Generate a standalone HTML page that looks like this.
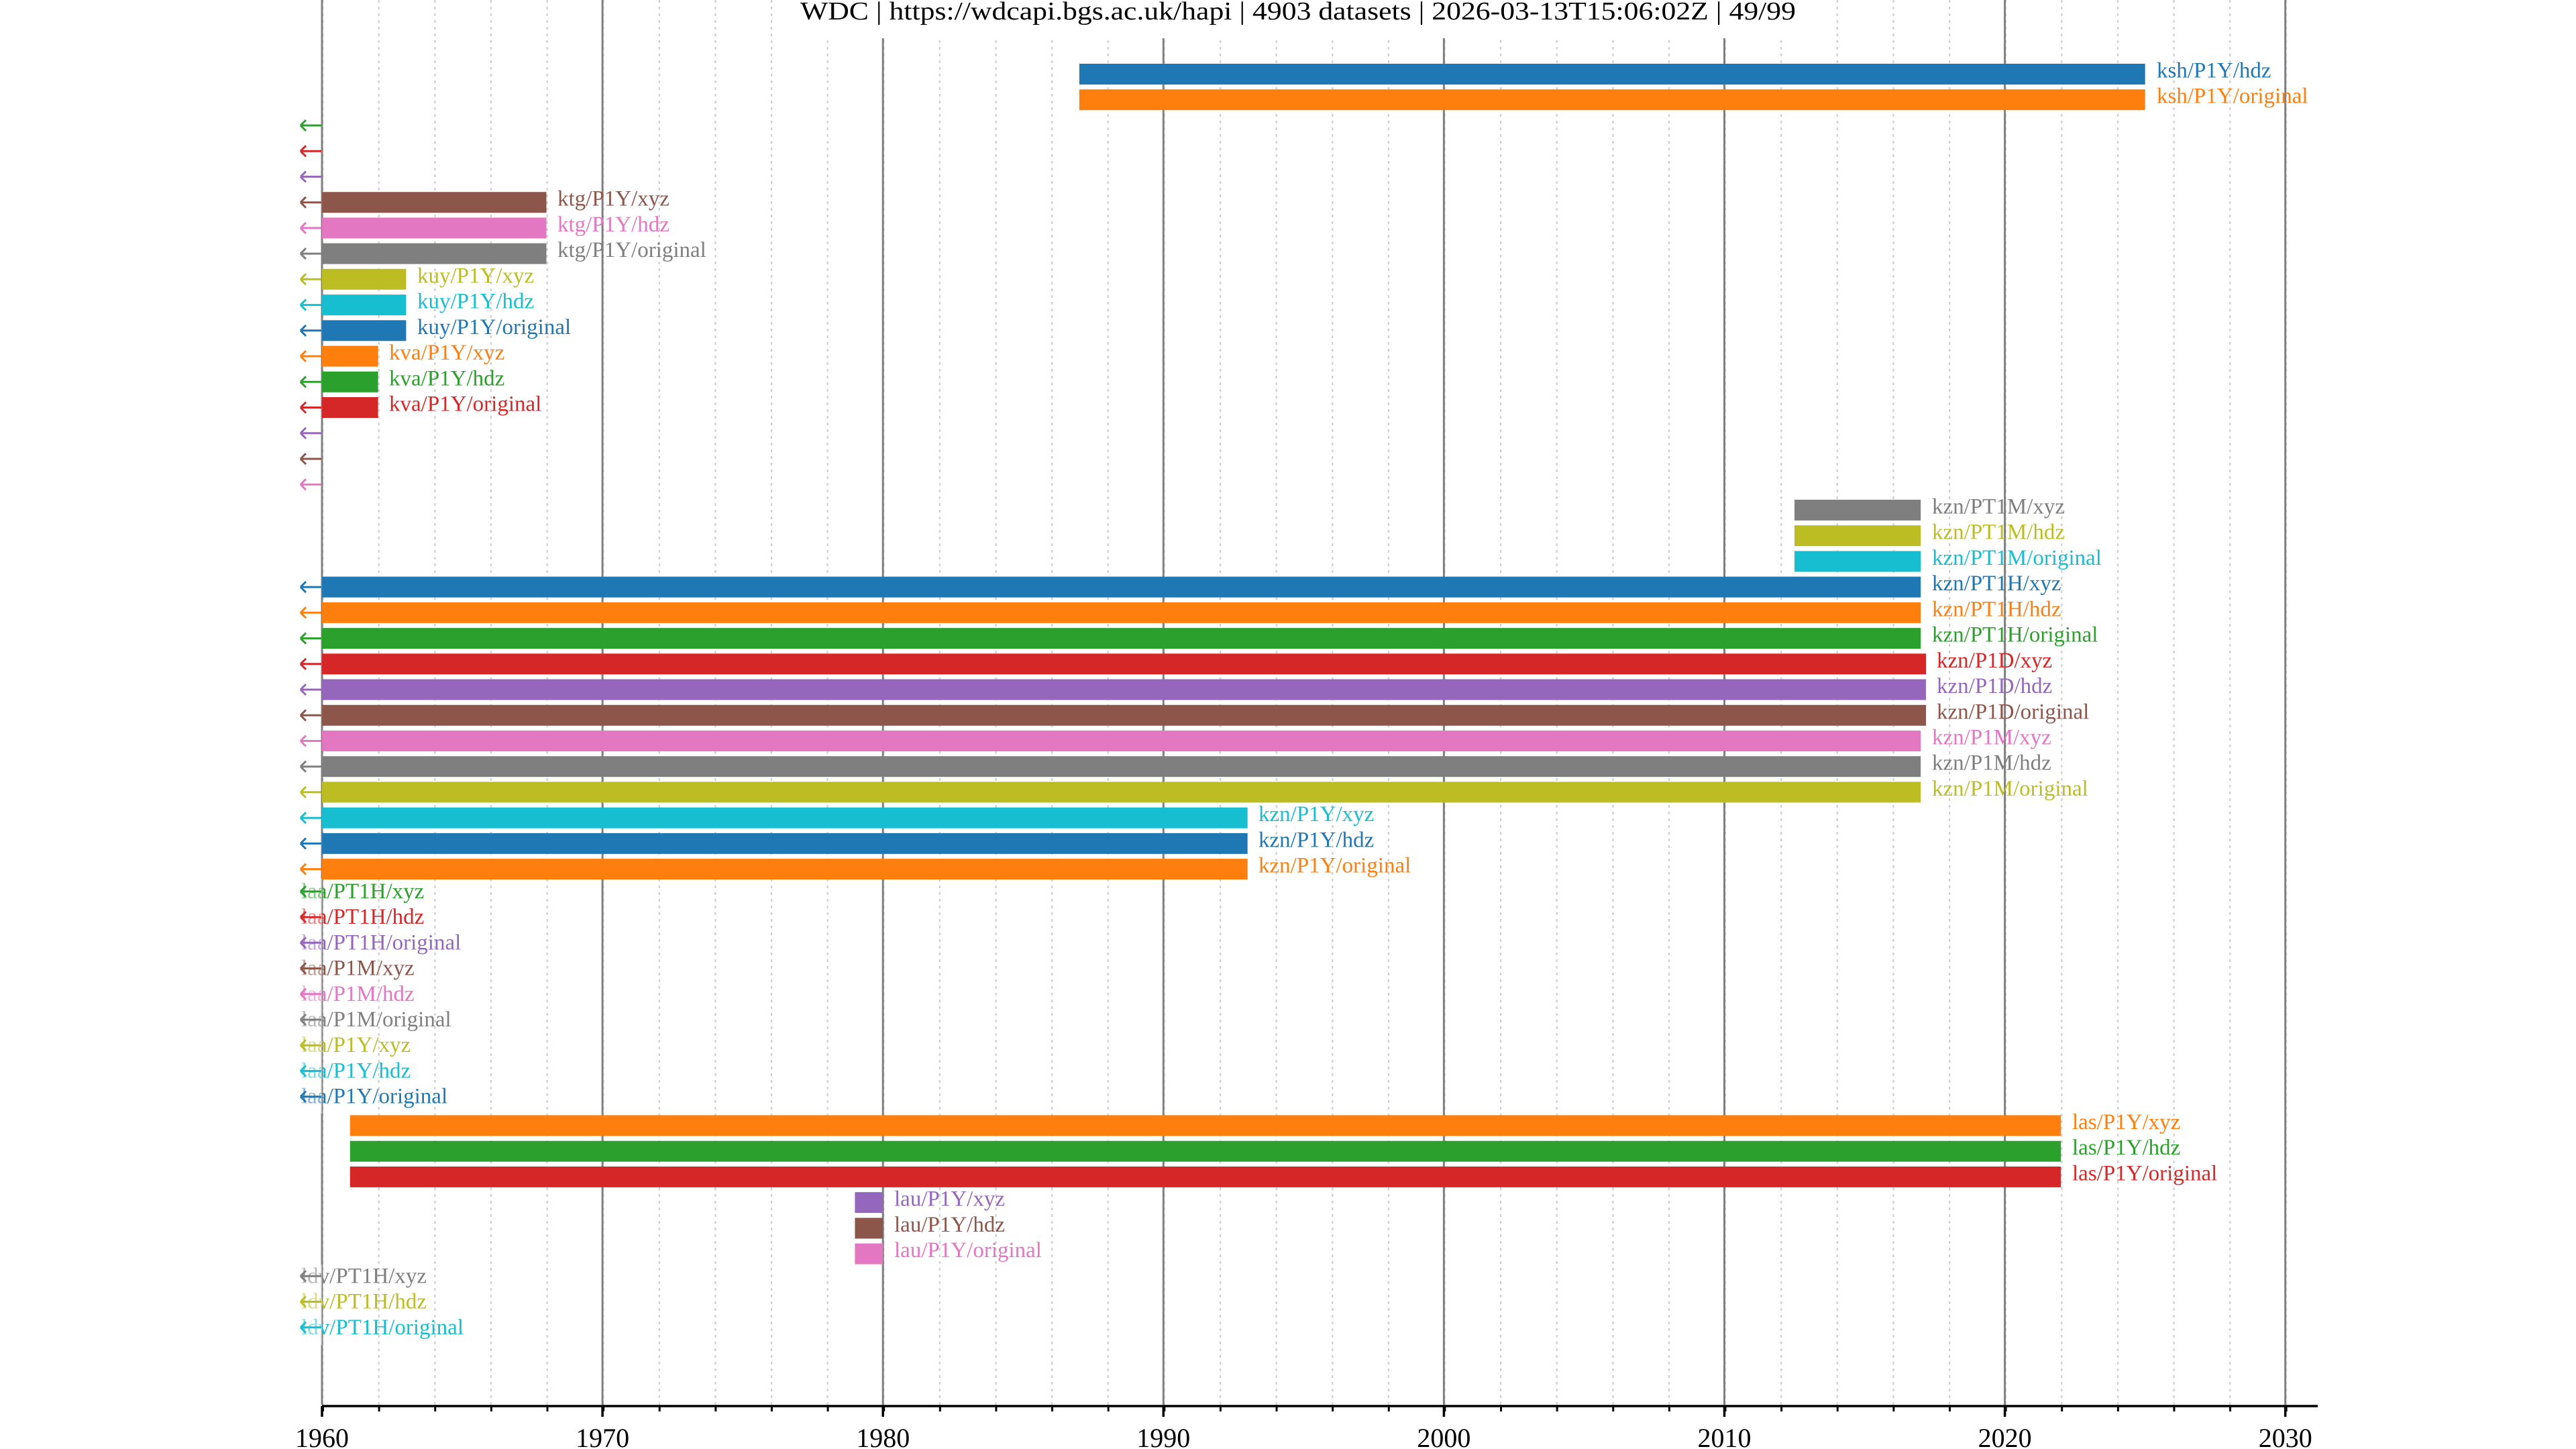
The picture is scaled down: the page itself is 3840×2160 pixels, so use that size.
<!DOCTYPE html>
<html><head><meta charset="utf-8"><style>
html,body{margin:0;padding:0;background:#fff;}
svg{display:block;}
text{font-family:"Liberation Serif","DejaVu Serif",serif;}
.l{font-size:33px;dominant-baseline:central;}
</style></head><body>
<svg width="3840" height="2160" viewBox="0 0 3840 2160" xmlns="http://www.w3.org/2000/svg">
<defs>
<pattern id="mg" patternUnits="userSpaceOnUse" x="480" y="0" width="83.62" height="10">
<line x1="1" y1="0" x2="1" y2="4" stroke="#cfcfcf" stroke-width="2.5"/>
</pattern>
<pattern id="mt" patternUnits="userSpaceOnUse" x="480" y="0" width="83.62" height="20">
<rect x="0" y="0" width="3" height="20" fill="#000"/>
</pattern>
</defs>
<rect width="3840" height="2160" fill="#fff"/>
<rect x="480" y="0" width="2960" height="2094" fill="url(#mg)"/>
<g stroke="#808080" stroke-width="3">
<line x1="480" y1="0" x2="480" y2="2094"/>
<line x1="898.1" y1="0" x2="898.1" y2="2094"/>
<line x1="1316.2" y1="0" x2="1316.2" y2="2094"/>
<line x1="1734.3" y1="0" x2="1734.3" y2="2094"/>
<line x1="2152.4" y1="0" x2="2152.4" y2="2094"/>
<line x1="2570.5" y1="0" x2="2570.5" y2="2094"/>
<line x1="2988.6" y1="0" x2="2988.6" y2="2094"/>
<line x1="3406.7" y1="0" x2="3406.7" y2="2094"/>
</g>
<rect x="1190" y="0" width="1490" height="57" fill="#fff"/>
<text x="1935" y="29" font-size="38" text-anchor="middle" textLength="1484" lengthAdjust="spacingAndGlyphs">WDC | https://wdcapi.bgs.ac.uk/hapi | 4903 datasets | 2026-03-13T15:06:02Z | 49/99</text>

<g>
<rect x="1608.9" y="95" width="1588.8" height="31" fill="#1f77b4"/>
<rect x="1608.9" y="133.2" width="1588.8" height="31" fill="#ff7f0e"/>
<rect x="480" y="286.2" width="334.5" height="31" fill="#8c564b"/>
<rect x="480" y="324.4" width="334.5" height="31" fill="#e377c2"/>
<rect x="480" y="362.6" width="334.5" height="31" fill="#7f7f7f"/>
<rect x="480" y="400.8" width="125.4" height="31" fill="#bcbd22"/>
<rect x="480" y="439.1" width="125.4" height="31" fill="#17becf"/>
<rect x="480" y="477.3" width="125.4" height="31" fill="#1f77b4"/>
<rect x="480" y="515.5" width="83.6" height="31" fill="#ff7f0e"/>
<rect x="480" y="553.8" width="83.6" height="31" fill="#2ca02c"/>
<rect x="480" y="592" width="83.6" height="31" fill="#d62728"/>
<rect x="2675" y="744.9" width="188.2" height="31" fill="#7f7f7f"/>
<rect x="2675" y="783.1" width="188.2" height="31" fill="#bcbd22"/>
<rect x="2675" y="821.4" width="188.2" height="31" fill="#17becf"/>
<rect x="480" y="859.6" width="2383.2" height="31" fill="#1f77b4"/>
<rect x="480" y="897.8" width="2383.2" height="31" fill="#ff7f0e"/>
<rect x="480" y="936.1" width="2383.2" height="31" fill="#2ca02c"/>
<rect x="480" y="974.3" width="2391" height="31" fill="#d62728"/>
<rect x="480" y="1012.5" width="2391" height="31" fill="#9467bd"/>
<rect x="480" y="1050.8" width="2391" height="31" fill="#8c564b"/>
<rect x="480" y="1089" width="2383.2" height="31" fill="#e377c2"/>
<rect x="480" y="1127.2" width="2383.2" height="31" fill="#7f7f7f"/>
<rect x="480" y="1165.4" width="2383.2" height="31" fill="#bcbd22"/>
<rect x="480" y="1203.7" width="1379.7" height="31" fill="#17becf"/>
<rect x="480" y="1241.9" width="1379.7" height="31" fill="#1f77b4"/>
<rect x="480" y="1280.1" width="1379.7" height="31" fill="#ff7f0e"/>
<rect x="521.8" y="1662.4" width="2550.4" height="31" fill="#ff7f0e"/>
<rect x="521.8" y="1700.7" width="2550.4" height="31" fill="#2ca02c"/>
<rect x="521.8" y="1738.9" width="2550.4" height="31" fill="#d62728"/>
<rect x="1274.4" y="1777.1" width="41.8" height="31" fill="#9467bd"/>
<rect x="1274.4" y="1815.4" width="41.8" height="31" fill="#8c564b"/>
<rect x="1274.4" y="1853.6" width="41.8" height="31" fill="#e377c2"/>
</g>

<g transform="translate(0,-5)">
<text class="l" x="3215" y="110.5" fill="#1f77b4">ksh/P1Y/hdz</text>
<text class="l" x="3215" y="148.7" fill="#ff7f0e">ksh/P1Y/original</text>
<text class="l" x="831" y="301.7" fill="#8c564b">ktg/P1Y/xyz</text>
<text class="l" x="831" y="339.9" fill="#e377c2">ktg/P1Y/hdz</text>
<text class="l" x="831" y="378.1" fill="#7f7f7f">ktg/P1Y/original</text>
<text class="l" x="622" y="416.3" fill="#bcbd22">kuy/P1Y/xyz</text>
<text class="l" x="622" y="454.6" fill="#17becf">kuy/P1Y/hdz</text>
<text class="l" x="622" y="492.8" fill="#1f77b4">kuy/P1Y/original</text>
<text class="l" x="580" y="531" fill="#ff7f0e">kva/P1Y/xyz</text>
<text class="l" x="580" y="569.3" fill="#2ca02c">kva/P1Y/hdz</text>
<text class="l" x="580" y="607.5" fill="#d62728">kva/P1Y/original</text>
<text class="l" x="2880" y="760.4" fill="#7f7f7f">kzn/PT1M/xyz</text>
<text class="l" x="2880" y="798.6" fill="#bcbd22">kzn/PT1M/hdz</text>
<text class="l" x="2880" y="836.9" fill="#17becf">kzn/PT1M/original</text>
<text class="l" x="2880" y="875.1" fill="#1f77b4">kzn/PT1H/xyz</text>
<text class="l" x="2880" y="913.3" fill="#ff7f0e">kzn/PT1H/hdz</text>
<text class="l" x="2880" y="951.6" fill="#2ca02c">kzn/PT1H/original</text>
<text class="l" x="2887" y="989.8" fill="#d62728">kzn/P1D/xyz</text>
<text class="l" x="2887" y="1028" fill="#9467bd">kzn/P1D/hdz</text>
<text class="l" x="2887" y="1066.3" fill="#8c564b">kzn/P1D/original</text>
<text class="l" x="2880" y="1104.5" fill="#e377c2">kzn/P1M/xyz</text>
<text class="l" x="2880" y="1142.7" fill="#7f7f7f">kzn/P1M/hdz</text>
<text class="l" x="2880" y="1180.9" fill="#bcbd22">kzn/P1M/original</text>
<text class="l" x="1876" y="1219.2" fill="#17becf">kzn/P1Y/xyz</text>
<text class="l" x="1876" y="1257.4" fill="#1f77b4">kzn/P1Y/hdz</text>
<text class="l" x="1876" y="1295.6" fill="#ff7f0e">kzn/P1Y/original</text>
<text class="l" x="449" y="1333.9" fill="#2ca02c">laa/PT1H/xyz</text>
<text class="l" x="449" y="1372.1" fill="#d62728">laa/PT1H/hdz</text>
<text class="l" x="449" y="1410.3" fill="#9467bd">laa/PT1H/original</text>
<text class="l" x="449" y="1448.6" fill="#8c564b">laa/P1M/xyz</text>
<text class="l" x="449" y="1486.8" fill="#e377c2">laa/P1M/hdz</text>
<text class="l" x="449" y="1525" fill="#7f7f7f">laa/P1M/original</text>
<text class="l" x="449" y="1563.2" fill="#bcbd22">laa/P1Y/xyz</text>
<text class="l" x="449" y="1601.5" fill="#17becf">laa/P1Y/hdz</text>
<text class="l" x="449" y="1639.7" fill="#1f77b4">laa/P1Y/original</text>
<text class="l" x="3089" y="1677.9" fill="#ff7f0e">las/P1Y/xyz</text>
<text class="l" x="3089" y="1716.2" fill="#2ca02c">las/P1Y/hdz</text>
<text class="l" x="3089" y="1754.4" fill="#d62728">las/P1Y/original</text>
<text class="l" x="1333" y="1792.6" fill="#9467bd">lau/P1Y/xyz</text>
<text class="l" x="1333" y="1830.9" fill="#8c564b">lau/P1Y/hdz</text>
<text class="l" x="1333" y="1869.1" fill="#e377c2">lau/P1Y/original</text>
<text class="l" x="449" y="1907.3" fill="#7f7f7f">ldv/PT1H/xyz</text>
<text class="l" x="449" y="1945.5" fill="#bcbd22">ldv/PT1H/hdz</text>
<text class="l" x="449" y="1983.8" fill="#17becf">ldv/PT1H/original</text>
</g>
<rect x="440" y="1310" width="40" height="350" fill="#fff" opacity="0.45"/>
<rect x="440" y="1885" width="40" height="120" fill="#fff" opacity="0.45"/>

<g fill="none" stroke-width="3">
<path stroke="#2ca02c" d="M448 187h31M448 187l8 -8M448 187l8 8"/>
<path stroke="#d62728" d="M448 225.2h31M448 225.2l8 -8M448 225.2l8 8"/>
<path stroke="#9467bd" d="M448 263.4h31M448 263.4l8 -8M448 263.4l8 8"/>
<path stroke="#8c564b" d="M448 301.7h31M448 301.7l8 -8M448 301.7l8 8"/>
<path stroke="#e377c2" d="M448 339.9h31M448 339.9l8 -8M448 339.9l8 8"/>
<path stroke="#7f7f7f" d="M448 378.1h31M448 378.1l8 -8M448 378.1l8 8"/>
<path stroke="#bcbd22" d="M448 416.3h31M448 416.3l8 -8M448 416.3l8 8"/>
<path stroke="#17becf" d="M448 454.6h31M448 454.6l8 -8M448 454.6l8 8"/>
<path stroke="#1f77b4" d="M448 492.8h31M448 492.8l8 -8M448 492.8l8 8"/>
<path stroke="#ff7f0e" d="M448 531h31M448 531l8 -8M448 531l8 8"/>
<path stroke="#2ca02c" d="M448 569.3h31M448 569.3l8 -8M448 569.3l8 8"/>
<path stroke="#d62728" d="M448 607.5h31M448 607.5l8 -8M448 607.5l8 8"/>
<path stroke="#9467bd" d="M448 645.7h31M448 645.7l8 -8M448 645.7l8 8"/>
<path stroke="#8c564b" d="M448 684h31M448 684l8 -8M448 684l8 8"/>
<path stroke="#e377c2" d="M448 722.2h31M448 722.2l8 -8M448 722.2l8 8"/>
<path stroke="#1f77b4" d="M448 875.1h31M448 875.1l8 -8M448 875.1l8 8"/>
<path stroke="#ff7f0e" d="M448 913.3h31M448 913.3l8 -8M448 913.3l8 8"/>
<path stroke="#2ca02c" d="M448 951.6h31M448 951.6l8 -8M448 951.6l8 8"/>
<path stroke="#d62728" d="M448 989.8h31M448 989.8l8 -8M448 989.8l8 8"/>
<path stroke="#9467bd" d="M448 1028h31M448 1028l8 -8M448 1028l8 8"/>
<path stroke="#8c564b" d="M448 1066.3h31M448 1066.3l8 -8M448 1066.3l8 8"/>
<path stroke="#e377c2" d="M448 1104.5h31M448 1104.5l8 -8M448 1104.5l8 8"/>
<path stroke="#7f7f7f" d="M448 1142.7h31M448 1142.7l8 -8M448 1142.7l8 8"/>
<path stroke="#bcbd22" d="M448 1180.9h31M448 1180.9l8 -8M448 1180.9l8 8"/>
<path stroke="#17becf" d="M448 1219.2h31M448 1219.2l8 -8M448 1219.2l8 8"/>
<path stroke="#1f77b4" d="M448 1257.4h31M448 1257.4l8 -8M448 1257.4l8 8"/>
<path stroke="#ff7f0e" d="M448 1295.6h31M448 1295.6l8 -8M448 1295.6l8 8"/>
<path stroke="#2ca02c" d="M448 1328.9h31M448 1328.9l8 -8M448 1328.9l8 8"/>
<path stroke="#d62728" d="M448 1367.1h31M448 1367.1l8 -8M448 1367.1l8 8"/>
<path stroke="#9467bd" d="M448 1405.3h31M448 1405.3l8 -8M448 1405.3l8 8"/>
<path stroke="#8c564b" d="M448 1443.6h31M448 1443.6l8 -8M448 1443.6l8 8"/>
<path stroke="#e377c2" d="M448 1481.8h31M448 1481.8l8 -8M448 1481.8l8 8"/>
<path stroke="#7f7f7f" d="M448 1520h31M448 1520l8 -8M448 1520l8 8"/>
<path stroke="#bcbd22" d="M448 1558.2h31M448 1558.2l8 -8M448 1558.2l8 8"/>
<path stroke="#17becf" d="M448 1596.5h31M448 1596.5l8 -8M448 1596.5l8 8"/>
<path stroke="#1f77b4" d="M448 1634.7h31M448 1634.7l8 -8M448 1634.7l8 8"/>
<path stroke="#7f7f7f" d="M448 1902.3h31M448 1902.3l8 -8M448 1902.3l8 8"/>
<path stroke="#bcbd22" d="M448 1940.5h31M448 1940.5l8 -8M448 1940.5l8 8"/>
<path stroke="#17becf" d="M448 1978.8h31M448 1978.8l8 -8M448 1978.8l8 8"/>
</g>

<rect x="480" y="2096" width="2965" height="8" fill="url(#mt)"/>
<line x1="480" y1="2096" x2="3455" y2="2096" stroke="#000" stroke-width="3.5"/>
<g stroke="#000" stroke-width="3.5">
<line x1="480" y1="2096" x2="480" y2="2112"/>
<line x1="898.1" y1="2096" x2="898.1" y2="2112"/>
<line x1="1316.2" y1="2096" x2="1316.2" y2="2112"/>
<line x1="1734.3" y1="2096" x2="1734.3" y2="2112"/>
<line x1="2152.4" y1="2096" x2="2152.4" y2="2112"/>
<line x1="2570.5" y1="2096" x2="2570.5" y2="2112"/>
<line x1="2988.6" y1="2096" x2="2988.6" y2="2112"/>
<line x1="3406.7" y1="2096" x2="3406.7" y2="2112"/>
</g>
<g font-size="40" text-anchor="middle">
<text x="480" y="2157">1960</text>
<text x="898.1" y="2157">1970</text>
<text x="1316.2" y="2157">1980</text>
<text x="1734.3" y="2157">1990</text>
<text x="2152.4" y="2157">2000</text>
<text x="2570.5" y="2157">2010</text>
<text x="2988.6" y="2157">2020</text>
<text x="3406.7" y="2157">2030</text>
</g>
</svg>
</body></html>
